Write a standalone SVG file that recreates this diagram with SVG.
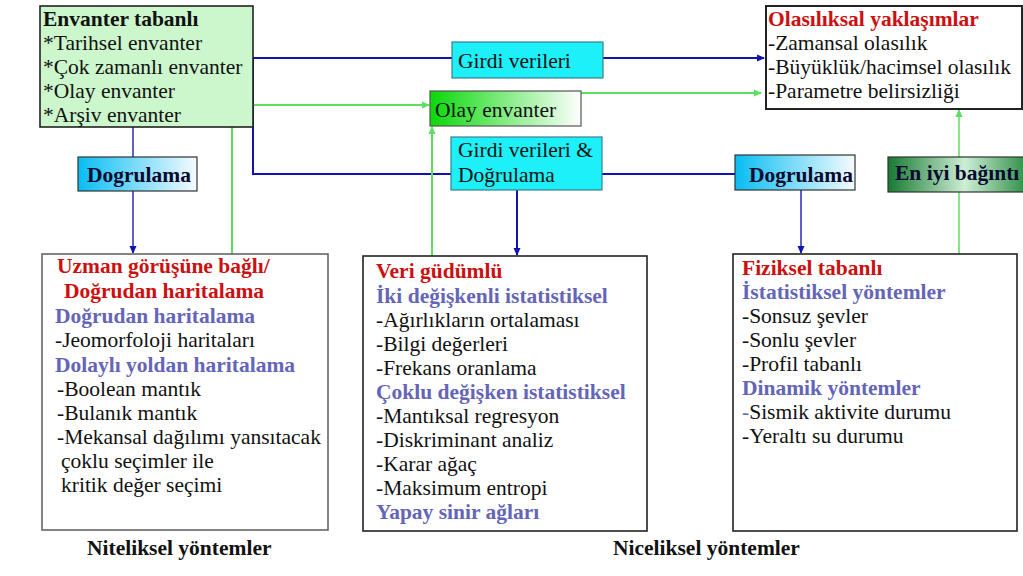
<svg xmlns="http://www.w3.org/2000/svg" width="1023" height="576" viewBox="0 0 1023 576" font-family="'Liberation Serif', Tinos, 'Times New Roman', 'DejaVu Serif', serif">
  <style>
    text { font-family: 'Liberation Serif', Tinos, 'Times New Roman', 'DejaVu Serif', serif; font-size: 21.5px; fill: #111; }
    .b { font-weight: bold; }
    .red { fill: #cc1010; font-weight: bold; }
    .sub { fill: #6565b8; font-weight: bold; }
    .navy { fill: #0a0a30; font-weight: bold; }
    .box { fill: #fff; stroke: #222; stroke-width: 1.6; }
    .cyan { fill: #1ef0fa; stroke: #3a7f8f; stroke-width: 1.2; }
    .blue { fill: none; stroke: #1212b4; stroke-width: 2; }
    .blue-thin { fill: none; stroke: #2a2ab8; stroke-width: 1.5; }
    .green { fill: none; stroke: #5ede5e; stroke-width: 2; }
  </style>
  <defs>
    <linearGradient id="gradCyan" x1="0" y1="0" x2="1" y2="0">
      <stop offset="0" stop-color="#08bdf2"/>
      <stop offset="1" stop-color="#f6fbff"/>
    </linearGradient>
    <linearGradient id="gradLime" x1="0" y1="0" x2="1" y2="0">
      <stop offset="0" stop-color="#0ad80a"/>
      <stop offset="1" stop-color="#ffffff"/>
    </linearGradient>
    <linearGradient id="gradForest" x1="0" y1="0" x2="1" y2="0">
      <stop offset="0" stop-color="#177a32"/>
      <stop offset="0.55" stop-color="#cdeed5"/>
      <stop offset="1" stop-color="#2b8c42"/>
    </linearGradient>
    <marker id="arrBlue" markerWidth="8" markerHeight="8" refX="7" refY="4" orient="auto" markerUnits="userSpaceOnUse">
      <path d="M0,0.5 L8,4 L0,7.5 Z" fill="#1212b4"/>
    </marker>
    <marker id="arrGreen" markerWidth="8" markerHeight="8" refX="7" refY="4" orient="auto" markerUnits="userSpaceOnUse">
      <path d="M0,0.5 L8,4 L0,7.5 Z" fill="#5ede5e"/>
    </marker>
  </defs>

  <!-- connectors -->
  <g id="connectors">
    <path class="blue" d="M452 58 H253 V174 H451"/>
    <path class="blue" d="M603 58 H764" marker-end="url(#arrBlue)"/>
    <path class="blue" d="M602 174 H735"/>
    <path class="blue-thin" d="M133 127 V157"/>
    <path class="blue-thin" d="M133 191 V253" marker-end="url(#arrBlue)"/>
    <path class="blue" d="M517 190 V255" marker-end="url(#arrBlue)"/>
    <path class="blue-thin" d="M801 190 V253" marker-end="url(#arrBlue)"/>
    <path class="green" d="M253 105 H429" marker-end="url(#arrGreen)"/>
    <path class="green" d="M581 93 H761" marker-end="url(#arrGreen)"/>
    <path class="green" d="M432 256 V127" marker-end="url(#arrGreen)"/>
    <path class="green" d="M232 127 V254"/>
    <path class="green" style="stroke-width:1.5" d="M959 254 V192"/>
    <path class="green" style="stroke-width:1.5" d="M959 157 V110" marker-end="url(#arrGreen)"/>
  </g>

  <!-- inventory source -->
  <g id="envanter">
    <rect x="40" y="6" width="213" height="121" fill="#ccf7cc" stroke="#222" stroke-width="1.6"/>
    <text x="43" y="26" class="b">Envanter tabanlı</text>
    <text x="43" y="50">*Tarihsel envanter</text>
    <text x="43" y="74">*Çok zamanlı envanter</text>
    <text x="43" y="98">*Olay envanter</text>
    <text x="43" y="122">*Arşiv envanter</text>
  </g>

  <g id="girdi">
    <rect class="cyan" x="452" y="42" width="151" height="36"/>
    <text x="458" y="68">Girdi verileri</text>
  </g>

  <g id="olay">
    <rect x="430" y="91" width="151" height="35" fill="url(#gradLime)" stroke="#555" stroke-width="1.2"/>
    <text x="435" y="117">Olay envanter</text>
  </g>

  <g id="girdi-dogrulama">
    <rect class="cyan" x="451" y="137" width="151" height="53"/>
    <text x="458" y="157">Girdi verileri &amp;</text>
    <text x="458" y="182">Doğrulama</text>
  </g>

  <g id="olasiliksal">
    <rect class="box" x="766" y="6" width="256" height="103" style="stroke-width:2"/>
    <text x="768" y="26" class="red">Olasılıksal yaklaşımlar</text>
    <text x="768" y="50">-Zamansal olasılık</text>
    <text x="768" y="74">-Büyüklük/hacimsel olasılık</text>
    <text x="768" y="98">-Parametre belirsizliği</text>
  </g>

  <g id="dogrulama-sol">
    <rect x="78" y="157" width="119" height="34" fill="url(#gradCyan)" stroke="#333" stroke-width="1.2"/>
    <text x="87" y="182" class="navy">Dogrulama</text>
  </g>

  <g id="dogrulama-sag">
    <rect x="735" y="155" width="120" height="35" fill="url(#gradCyan)" stroke="#333" stroke-width="1.2"/>
    <text x="749" y="182" class="navy">Dogrulama</text>
  </g>

  <g id="en-iyi">
    <rect x="888" y="157" width="140" height="35" fill="url(#gradForest)" stroke="#333" stroke-width="1.2"/>
    <text x="895" y="180" class="navy">En iyi bağıntı</text>
  </g>

  <!-- qualitative methods -->
  <g id="uzman">
    <rect x="42" y="254" width="286" height="276" fill="#fff" stroke="#666" stroke-width="1.6"/>
    <text x="57" y="273" class="red">Uzman görüşüne bağlı/</text>
    <text x="64" y="298" class="red">Doğrudan haritalama</text>
    <text x="55" y="323" class="sub">Doğrudan haritalama</text>
    <text x="55" y="347">-Jeomorfoloji haritaları</text>
    <text x="55" y="372" class="sub">Dolaylı yoldan haritalama</text>
    <text x="57" y="396">-Boolean mantık</text>
    <text x="57" y="420">-Bulanık mantık</text>
    <text x="57" y="444">-Mekansal dağılımı yansıtacak</text>
    <text x="61" y="468">çoklu seçimler ile</text>
    <text x="61" y="492">kritik değer seçimi</text>
  </g>

  <!-- data-driven methods -->
  <g id="veri">
    <rect class="box" x="363" y="256" width="284" height="275"/>
    <text x="376" y="278" class="red">Veri güdümlü</text>
    <text x="376" y="303" class="sub">İki değişkenli istatistiksel</text>
    <text x="376" y="327">-Ağırlıkların ortalaması</text>
    <text x="376" y="351">-Bilgi değerleri</text>
    <text x="376" y="375">-Frekans oranlama</text>
    <text x="376" y="399" class="sub">Çoklu değişken istatistiksel</text>
    <text x="376" y="423">-Mantıksal regresyon</text>
    <text x="376" y="447">-Diskriminant analiz</text>
    <text x="376" y="471">-Karar ağaç</text>
    <text x="376" y="495">-Maksimum entropi</text>
    <text x="376" y="519" class="sub">Yapay sinir ağları</text>
  </g>

  <!-- physically based methods -->
  <g id="fiziksel">
    <rect class="box" x="733" y="254" width="284" height="277"/>
    <text x="742" y="275" class="red">Fiziksel tabanlı</text>
    <text x="742" y="299" class="sub">İstatistiksel yöntemler</text>
    <text x="742" y="323">-Sonsuz şevler</text>
    <text x="742" y="347">-Sonlu şevler</text>
    <text x="742" y="371">-Profil tabanlı</text>
    <text x="742" y="395" class="sub">Dinamik yöntemler</text>
    <text x="742" y="419"><tspan fill="#6565b8">-</tspan>Sismik aktivite durumu</text>
    <text x="742" y="443">-Yeraltı su durumu</text>
  </g>

  <g id="etiketler">
    <text x="87" y="555" class="b">Niteliksel yöntemler</text>
    <text x="613" y="555" class="b">Niceliksel yöntemler</text>
  </g>
</svg>
